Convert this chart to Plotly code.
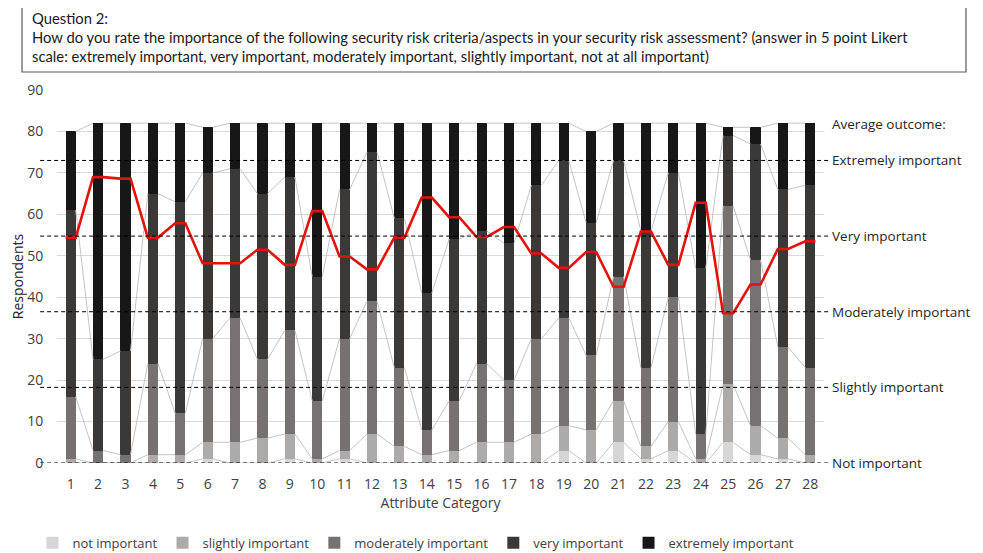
import plotly.graph_objects as go
import numpy as np

categories = list(range(1, 29))

not_important = [0, 0, 0, 0, 0, 1, 0, 0, 1, 0, 1, 0, 0, 0, 0, 0, 0, 0, 3, 0, 5, 1, 3, 0, 5, 2, 1, 0]
slightly_important = [1, 0, 0, 2, 2, 4, 5, 6, 6, 1, 2, 7, 4, 2, 3, 5, 5, 7, 6, 8, 10, 3, 7, 1, 14, 7, 5, 2]
moderately_important = [15, 3, 2, 22, 10, 25, 30, 19, 25, 14, 27, 32, 19, 6, 12, 19, 15, 23, 26, 18, 30, 19, 30, 6, 43, 40, 22, 21]
very_important = [45, 22, 25, 41, 51, 40, 36, 40, 37, 30, 36, 36, 36, 33, 39, 32, 33, 37, 38, 32, 28, 33, 30, 40, 17, 28, 38, 44]
extremely_important = [19, 57, 55, 17, 19, 11, 11, 17, 13, 37, 16, 7, 23, 41, 28, 26, 29, 15, 9, 22, 9, 26, 12, 35, 2, 4, 16, 15]

# average outcome on the 5-point Likert scale (1 = not important ... 5 = extremely important)
avg_outcome = [3.98, 4.78, 4.76, 3.98, 4.17, 3.64, 3.64, 3.82, 3.62, 4.33, 3.73, 3.56, 3.98, 4.51,
               4.25, 3.99, 4.12, 3.77, 3.58, 3.79, 3.33, 4.06, 3.62, 4.44, 2.98, 3.36, 3.83, 3.93]

series_names = ["not important", "slightly important", "moderately important", "very important", "extremely important"]
level_values = [1, 2, 3, 4, 5]
level_labels = ["Not important", "Slightly important", "Moderately important", "Very important", "Extremely important"]

title_text = ("Question 2:<br>How do you rate the importance of the following security risk criteria/aspects in your security risk "
              "assessment? (answer in 5 point Likert<br>scale: extremely important, very important, moderately important, "
              "slightly important, not at all important)")

colors = ["#d6d6d6", "#adaaaa", "#777272", "#3b3838", "#171717"]
BAR_W = 0.37
LEVEL_STEP = 18.25  # respondents-axis units per Likert step
FONT = "Open Sans"
TXT = "#404040"

series = [not_important, slightly_important, moderately_important, very_important, extremely_important]
cum = np.cumsum(np.array(series), axis=0)

fig = go.Figure()

# series lines joining the segment tops of neighbouring bars
for k in range(len(series)):
    xs, ys = [], []
    for i in range(len(categories) - 1):
        xs += [categories[i] + BAR_W / 2, categories[i + 1] - BAR_W / 2, None]
        ys += [cum[k][i], cum[k][i + 1], None]
    fig.add_trace(go.Scatter(x=xs, y=ys, mode="lines", line=dict(color="#c4c4c4", width=1),
                             showlegend=False, hoverinfo="skip"))

for name, vals, col in zip(series_names, series, colors):
    fig.add_trace(go.Bar(x=categories, y=vals, name=name, width=BAR_W,
                         marker=dict(color=col, line=dict(width=0))))

# average outcome line (flat across each bar)
rx, ry = [], []
for c, v in zip(categories, avg_outcome):
    rx += [c - BAR_W / 2, c + BAR_W / 2]
    ry += [v, v]
fig.add_trace(go.Scatter(x=rx, y=ry, yaxis="y2", mode="lines", line=dict(color="#e3120b", width=2.6),
                         showlegend=False, name="average outcome"))

shapes = []
for lv in level_values:
    shapes.append(dict(type="line", xref="paper", yref="y2", x0=-0.022, x1=1.008, y0=lv, y1=lv,
                       line=dict(color="#000000", width=1, dash="4px,3px"), layer="above"))
shapes.append(dict(type="rect", xref="paper", yref="paper", x0=-0.0456, x1=1.1851, y0=1.0483, y1=1.2279,
                   line=dict(color="#595959", width=1.2), fillcolor="rgba(0,0,0,0)"))

annotations = []
for lv, lab in zip(level_values, level_labels):
    annotations.append(dict(text=lab, xref="paper", yref="y2", x=1.008, y=lv, xanchor="left", yanchor="middle",
                            showarrow=False, font=dict(family=FONT, size=13.5, color="#262626")))
annotations.append(dict(text="Average outcome:", xref="paper", yref="y", x=1.008, y=81.7, xanchor="left",
                        yanchor="middle", showarrow=False, font=dict(family=FONT, size=13.5, color="#262626")))
annotations.append(dict(text=title_text, xref="paper", yref="paper", x=-0.0352, y=1.222, xanchor="left",
                        yanchor="top", align="left", showarrow=False,
                        font=dict(family="Lato", size=14.8, color="#1a1a1a")))

# the page adds an 8px body margin, so the figure is 8px smaller and margins shifted accordingly
fig.update_layout(
    width=975, height=545,
    margin=dict(l=49, r=159, t=82, b=90, autoexpand=False),
    paper_bgcolor="white", plot_bgcolor="white",
    barmode="stack",
    font=dict(family=FONT, size=13, color=TXT),
    xaxis=dict(range=[0.5, 28.5], tickmode="array", tickvals=categories, ticktext=[str(c) for c in categories],
               showgrid=False, zeroline=False, showline=False, ticks="outside", ticklen=8,
               tickcolor="rgba(0,0,0,0)", tickfont=dict(size=14, color=TXT), automargin=False,
               title=dict(text="Attribute Category", font=dict(size=14, color=TXT), standoff=6)),
    yaxis=dict(range=[0, 90], dtick=10, showgrid=True, gridcolor="#d9d9d9", gridwidth=1, zeroline=False,
               showline=False, ticks="outside", ticklen=10, tickcolor="rgba(0,0,0,0)",
               tickfont=dict(size=14, color=TXT), automargin=False,
               title=dict(text="Respondents", font=dict(size=14, color="#262626"), standoff=4)),
    yaxis2=dict(overlaying="y", side="right", range=[1, 1 + 90 / LEVEL_STEP], showgrid=False, zeroline=False,
                showline=False, showticklabels=False, ticks="", automargin=False),
    legend=dict(orientation="h", x=0.468, xanchor="center", y=-0.214, yanchor="middle",
                traceorder="normal", font=dict(size=13, color=TXT), itemwidth=30),
    shapes=shapes,
    annotations=annotations,
    showlegend=True,
)

fig.write_html("out.html")
